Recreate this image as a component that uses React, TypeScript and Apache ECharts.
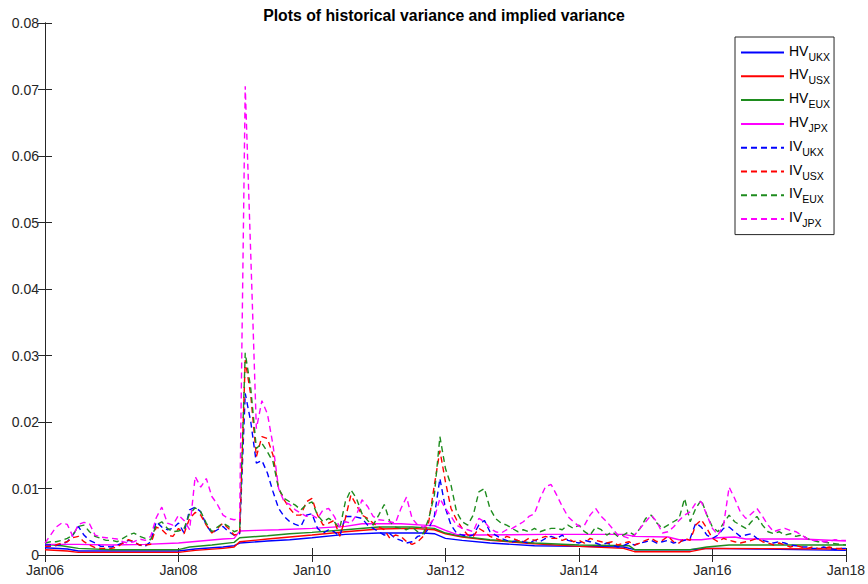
import React, { useEffect, useRef } from "react";
import * as echarts from "echarts";

// x values are months since Jan 2006 (0 = Jan06, 144 = Jan18)
const tickLabels = ["Jan06", "Jan08", "Jan10", "Jan12", "Jan14", "Jan16", "Jan18"];
const yTickValues = [0, 0.01, 0.02, 0.03, 0.04, 0.05, 0.06, 0.07, 0.08];

// Historical variance (smooth) : [month, value] breakpoints
const hvUKX: [number, number][] = [
  [0, 0.0011], [4, 0.0009], [6, 0.0006], [24, 0.0006], [27, 0.0009], [32, 0.0012], [34, 0.0014],
  [35, 0.0018], [40, 0.0021], [44, 0.0023], [48, 0.0026], [54, 0.0031], [60, 0.0033], [68, 0.0033],
  [70, 0.0032], [72, 0.0025], [75, 0.0022], [80, 0.0018], [88, 0.0014], [96, 0.0013], [104, 0.0012],
  [106, 0.0008], [116, 0.0008], [119, 0.001], [128, 0.0009], [144, 0.0007],
];
const hvUSX: [number, number][] = [
  [0, 0.0008], [4, 0.0006], [6, 0.0004], [24, 0.0004], [27, 0.0007], [32, 0.001], [34, 0.0012],
  [35, 0.002], [40, 0.0024], [44, 0.0027], [48, 0.003], [54, 0.0035], [60, 0.0039], [66, 0.004],
  [70, 0.0038], [72, 0.0032], [75, 0.0027], [80, 0.0022], [88, 0.0017], [96, 0.0013], [104, 0.001],
  [106, 0.0005], [116, 0.0005], [119, 0.001], [144, 0.0009],
];
const hvEUX: [number, number][] = [
  [0, 0.0016], [3, 0.0014], [6, 0.001], [12, 0.0008], [24, 0.0008], [26, 0.0012], [30, 0.0015],
  [34, 0.0019], [35, 0.0026], [40, 0.0029], [44, 0.0032], [48, 0.0034], [54, 0.0038], [60, 0.0042],
  [66, 0.0042], [70, 0.004], [72, 0.0033], [75, 0.0028], [80, 0.0023], [88, 0.0018], [96, 0.0015],
  [105, 0.0014], [106, 0.0008], [116, 0.0008], [119, 0.0012], [123, 0.0015], [144, 0.0015],
];
const hvJPX: [number, number][] = [
  [0, 0.0016], [6, 0.0016], [12, 0.0015], [18, 0.0016], [24, 0.0018], [28, 0.0021], [32, 0.0024],
  [34, 0.0025], [35, 0.0036], [38, 0.0037], [42, 0.0038], [48, 0.004], [54, 0.0043], [57, 0.0047],
  [64, 0.0047], [68, 0.0045], [70, 0.0044], [72, 0.0037], [74, 0.0031], [78, 0.003], [90, 0.0031],
  [104, 0.0031], [106, 0.0028], [112, 0.0027], [114, 0.0023], [118, 0.0023], [121, 0.0026],
  [124, 0.0027], [126, 0.0024], [136, 0.0024], [144, 0.0021],
];

// Implied variance, one value per month from Jan06 (index 0) to Jan18 (index 144)
const ivUKX: number[] = [
  0.0015, 0.0015, 0.0014, 0.0016, 0.002, 0.003, 0.0043, 0.003, 0.0022, 0.0018, 0.0013, 0.0013,
  0.0012, 0.0015, 0.0018, 0.0022, 0.002, 0.0015, 0.0013, 0.002, 0.005, 0.0042, 0.0038, 0.004,
  0.0048, 0.0033, 0.0068, 0.0072, 0.0065, 0.0045, 0.0033, 0.0038, 0.0043, 0.0035, 0.003, 0.0032,
  0.0243, 0.02, 0.0138, 0.0142, 0.0123, 0.0095, 0.007, 0.0058, 0.005, 0.0046, 0.0043, 0.006,
  0.0062, 0.004, 0.0033, 0.0038, 0.0035, 0.0028, 0.0058, 0.0058, 0.0057, 0.0055, 0.0045, 0.004,
  0.0035, 0.003, 0.0032, 0.0025, 0.0022, 0.0018, 0.002, 0.0028, 0.003, 0.004, 0.0058,
  0.0115, 0.007, 0.0045, 0.0033, 0.003, 0.0028, 0.003, 0.0045, 0.0052, 0.0035, 0.003, 0.0025,
  0.0022, 0.002, 0.0022, 0.002, 0.0018, 0.0022, 0.002, 0.0025, 0.0028,
  0.0025, 0.003, 0.0022, 0.002, 0.0018, 0.0022, 0.002, 0.0018, 0.0015, 0.0018,
  0.0015, 0.0012, 0.0014, 0.0018, 0.0015, 0.0018, 0.002, 0.0022, 0.0018, 0.002,
  0.0022, 0.0018, 0.002, 0.0022, 0.0025, 0.0048, 0.0042, 0.003, 0.0025, 0.003,
  0.004, 0.0042, 0.0035, 0.0028, 0.003, 0.0032, 0.0025, 0.0022, 0.002, 0.0018,
  0.002, 0.0018, 0.0015, 0.0014, 0.0012, 0.0012, 0.001, 0.001, 0.0012, 0.001,
  0.0008, 0.001, 0.001,
];
const ivUSX: number[] = [
  0.0013, 0.0013, 0.0015, 0.0018, 0.002, 0.0026, 0.0028, 0.002, 0.0015, 0.0011, 0.001, 0.001,
  0.001, 0.0012, 0.0018, 0.0023, 0.002, 0.0015, 0.0015, 0.0016, 0.0042, 0.0038, 0.003, 0.0028,
  0.004, 0.0032, 0.0055, 0.0064, 0.006, 0.0045, 0.0033, 0.004, 0.0048, 0.004, 0.003, 0.0032,
  0.0293, 0.024, 0.0148, 0.0178, 0.0175, 0.015, 0.01, 0.0083, 0.007, 0.006, 0.006, 0.008,
  0.0085, 0.006, 0.0045, 0.0048, 0.0052, 0.0028, 0.0055, 0.009, 0.0075, 0.006, 0.0055, 0.0048,
  0.0042, 0.0038, 0.0025, 0.003, 0.0028, 0.002, 0.0016, 0.002, 0.0028, 0.005, 0.0105,
  0.0157, 0.011, 0.007, 0.0053, 0.004, 0.003, 0.0028, 0.004, 0.0035, 0.0028, 0.0025, 0.0022,
  0.0028, 0.0025, 0.0022, 0.002, 0.0025, 0.0022, 0.0025, 0.0028, 0.0025,
  0.0025, 0.0022, 0.0025, 0.002, 0.0022, 0.0018, 0.0025, 0.0022, 0.002, 0.0018,
  0.002, 0.0015, 0.0018, 0.002, 0.0015, 0.0018, 0.0022, 0.0025, 0.002, 0.0022,
  0.0028, 0.002, 0.0018, 0.0025, 0.0022, 0.0045, 0.0053, 0.004, 0.0025, 0.002,
  0.0025, 0.0022, 0.002, 0.0018, 0.002, 0.0022, 0.0025, 0.002, 0.0018, 0.0015,
  0.0018, 0.0015, 0.0012, 0.0014, 0.0012, 0.001, 0.0012, 0.001, 0.001, 0.0012,
  0.001, 0.001, 0.001,
];
const ivEUX: number[] = [
  0.0018, 0.002, 0.002, 0.0022, 0.0025, 0.003, 0.0043, 0.0045, 0.0035, 0.0028, 0.0025, 0.0022,
  0.0022, 0.002, 0.0025, 0.003, 0.0033, 0.0028, 0.0025, 0.0023, 0.0045, 0.005, 0.004, 0.0035,
  0.0036, 0.004, 0.0062, 0.0071, 0.0065, 0.0048, 0.0035, 0.0042, 0.0048, 0.0043, 0.0035, 0.0038,
  0.0304, 0.025, 0.016, 0.0168, 0.0155, 0.014, 0.01, 0.0085, 0.008, 0.0075, 0.0068, 0.0076,
  0.008, 0.006, 0.005, 0.0055, 0.005, 0.004, 0.008, 0.0098, 0.0085, 0.0062, 0.0052, 0.0045,
  0.006, 0.0076, 0.005, 0.0042, 0.004, 0.0038, 0.0042, 0.0035, 0.0032, 0.0055, 0.009,
  0.0178, 0.013, 0.0105, 0.0065, 0.005, 0.0045, 0.006, 0.0095, 0.01, 0.007, 0.0055, 0.0048,
  0.0045, 0.004, 0.0035, 0.0038, 0.0035, 0.004, 0.0035, 0.0038, 0.004,
  0.004, 0.0038, 0.0045, 0.004, 0.0045, 0.0035, 0.003, 0.0042, 0.0038, 0.003,
  0.0035, 0.0028, 0.003, 0.0035, 0.003, 0.004, 0.0055, 0.006, 0.0048, 0.004,
  0.0045, 0.005, 0.0055, 0.0085, 0.005, 0.007, 0.0083, 0.006, 0.0042, 0.0035,
  0.0048, 0.006, 0.005, 0.0045, 0.004, 0.005, 0.0058, 0.0045, 0.0035, 0.0032,
  0.0035, 0.003, 0.0032, 0.0028, 0.003, 0.0025, 0.0022, 0.002, 0.002, 0.0018,
  0.0017, 0.0016, 0.0015,
];
const ivJPX: number[] = [
  0.0018, 0.003, 0.0042, 0.0048, 0.0046, 0.0028, 0.0046, 0.0049, 0.0047, 0.003, 0.0027, 0.0026,
  0.0025, 0.0024, 0.002, 0.0018, 0.002, 0.0024, 0.0022, 0.0028, 0.0056, 0.0072, 0.0048, 0.0045,
  0.006, 0.0052, 0.0038, 0.0118, 0.0102, 0.0115, 0.0088, 0.0076, 0.006, 0.0055, 0.0053, 0.0055,
  0.0705, 0.045, 0.019, 0.0232, 0.0212, 0.0165, 0.01, 0.008, 0.0076, 0.0068, 0.0063, 0.0058,
  0.006, 0.0055, 0.0068, 0.007, 0.0058, 0.0042, 0.005, 0.0048, 0.006, 0.0083, 0.0073, 0.0058,
  0.0053, 0.0052, 0.005, 0.0048, 0.007, 0.0087, 0.0055, 0.0045, 0.0042, 0.0045, 0.0055,
  0.0085, 0.007, 0.0058, 0.0045, 0.004, 0.0038, 0.0035, 0.0055, 0.005, 0.004, 0.0035, 0.0033,
  0.0038, 0.004, 0.0045, 0.005, 0.0058, 0.0062, 0.0085, 0.0103, 0.0106,
  0.009, 0.0073, 0.0058, 0.005, 0.0043, 0.0045, 0.006, 0.007, 0.0058, 0.005,
  0.004, 0.003, 0.0028, 0.0025, 0.003, 0.004, 0.005, 0.006, 0.005, 0.0033,
  0.0035, 0.0042, 0.0052, 0.006, 0.0065, 0.0078, 0.008, 0.006, 0.004, 0.003,
  0.0045, 0.0102, 0.0085, 0.0065, 0.0055, 0.0062, 0.007, 0.0058, 0.0045, 0.0035,
  0.0038, 0.004, 0.0037, 0.0035, 0.003, 0.0025, 0.0022, 0.0022, 0.002, 0.002,
  0.0023, 0.0022, 0.0022,
];

const seriesNames = ["HV_UKX", "HV_USX", "HV_EUX", "HV_JPX", "IV_UKX", "IV_USX", "IV_EUX", "IV_JPX"];
const seriesColors = ["#0000FF", "#FF0000", "#1E8C1E", "#FF00FF", "#0000FF", "#FF0000", "#1E8C1E", "#FF00FF"];

const FONT = "'Liberation Sans', Arial, Helvetica, sans-serif";
const AXIS_COLOR = "#262626";

export default function App() {
  const ref = useRef<HTMLDivElement>(null);

  useEffect(() => {
    if (!ref.current) return;
    const chart = echarts.init(ref.current, undefined, { renderer: "svg" });

    const hvData = [hvUKX, hvUSX, hvEUX, hvJPX];
    const ivData = [ivUKX, ivUSX, ivEUX, ivJPX].map((arr) => arr.map((v, i) => [i, v]));
    const allData = [...hvData, ...ivData];

    const series = seriesNames.map((name, k) => ({
      name,
      type: "line",
      data: allData[k],
      symbol: "none",
      showSymbol: false,
      xAxisIndex: 0,
      yAxisIndex: 0,
      lineStyle: {
        color: seriesColors[k],
        width: 1.4,
        type: k < 4 ? "solid" : [6, 4],
      },
      itemStyle: { color: seriesColors[k] },
      emphasis: { disabled: true },
    }));

    const baseX = {
      type: "value",
      min: 0,
      max: 144,
      interval: 24,
      axisLine: { show: true, lineStyle: { color: AXIS_COLOR, width: 1 } },
      axisTick: { show: true, inside: true, length: 7, lineStyle: { color: AXIS_COLOR, width: 1 } },
      splitLine: { show: false },
    };
    const baseY = {
      type: "value",
      min: 0,
      max: 0.08,
      interval: 0.01,
      axisLine: { show: true, lineStyle: { color: AXIS_COLOR, width: 1 } },
      axisTick: { show: true, inside: true, length: 7, lineStyle: { color: AXIS_COLOR, width: 1 } },
      splitLine: { show: false },
    };

    chart.setOption({
      animation: false,
      backgroundColor: "#ffffff",
      title: {
        text: "Plots of historical variance and implied variance",
        left: 439,
        top: 2,
        textAlign: "center",
        textStyle: { fontFamily: FONT, fontSize: 15.8, fontWeight: "bold", color: "#000000" },
      },
      grid: { left: 45, right: 22, top: 23, bottom: 29, containLabel: false },
      legend: {
        orient: "vertical",
        left: 735,
        top: 37,
        itemWidth: 43,
        itemHeight: 12,
        itemGap: 4.8,
        padding: [6, 4, 6, 5],
        backgroundColor: "#ffffff",
        borderColor: AXIS_COLOR,
        borderWidth: 1,
        data: seriesNames,
        itemStyle: { opacity: 0 },
        formatter: (name: string) => {
          const [a, b] = name.split("_");
          return `{m|${a}}{s|${b}}`;
        },
        textStyle: {
          fontFamily: FONT,
          color: "#000000",
          rich: {
            m: { fontFamily: FONT, fontSize: 14, color: "#000000", lineHeight: 20, padding: [0, 0, 4, 0] },
            s: { fontFamily: FONT, fontSize: 10.5, color: "#000000", lineHeight: 20, padding: [8, 0, 0, 0] },
          },
        },
      },
      xAxis: [
        {
          ...baseX,
          position: "bottom",
          axisLabel: {
            show: true,
            margin: 8,
            fontFamily: FONT,
            fontSize: 14,
            color: AXIS_COLOR,
            formatter: (v: number) => tickLabels[Math.round(v / 24)] ?? "",
          },
        },
        { ...baseX, position: "top", axisLabel: { show: false } },
      ],
      yAxis: [
        {
          ...baseY,
          position: "left",
          axisLabel: {
            show: true,
            margin: 6,
            fontFamily: FONT,
            fontSize: 14,
            color: AXIS_COLOR,
            formatter: (v: number) => {
              const idx = Math.round(v / 0.01);
              const val = yTickValues[idx];
              return val === 0 ? "0" : (val ?? v).toFixed(2);
            },
          },
        },
        { ...baseY, position: "right", axisLabel: { show: false } },
      ],
      series,
    });

    return () => chart.dispose();
  }, []);

  return (
    <div
      ref={ref}
      style={{ position: "absolute", left: 0, top: 0, width: 868, height: 584, background: "#fff" }}
    />
  );
}
